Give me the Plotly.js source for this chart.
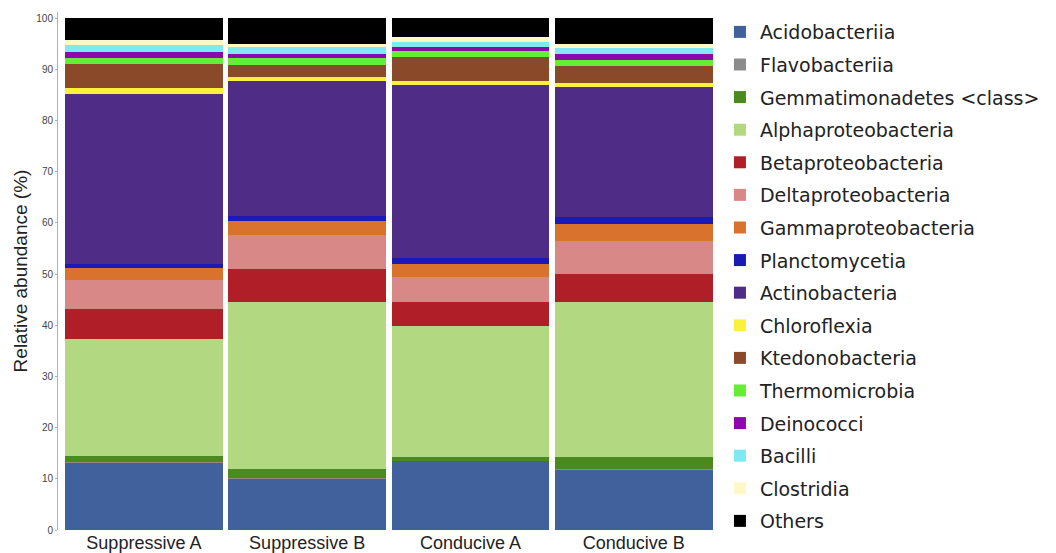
<!DOCTYPE html>
<html>
<head>
<meta charset="utf-8">
<script src="https://cdn.plot.ly/plotly-3.0.1.min.js"></script>
<style>
  html, body { margin: 0; padding: 0; background: #ffffff; }
  #chart { width: 1056px; height: 553px; }
</style>
</head>
<body>
<div id="chart"></div>
<script>
// Soil samples shown as stacked columns
const samples = ['Suppressive A', 'Suppressive B', 'Conducive A', 'Conducive B'];

// Bacterial classes, bottom of the stack first
const classes = [
  'Acidobacteriia', 'Flavobacteriia', 'Gemmatimonadetes <class>', 'Alphaproteobacteria',
  'Betaproteobacteria', 'Deltaproteobacteria', 'Gammaproteobacteria', 'Planctomycetia',
  'Actinobacteria', 'Chloroflexia', 'Ktedonobacteria', 'Thermomicrobia',
  'Deinococci', 'Bacilli', 'Clostridia', 'Others'
];

// Relative abundance (%) per class, one value per sample
const acidobacteriia      = [13.1, 10.0, 13.4, 11.8];
const flavobacteriia      = [0.1, 0.1, 0.1, 0.1];
const gemmatimonadetes    = [1.2, 1.8, 0.8, 2.4];
const alphaproteobacteria = [23.0, 32.6, 25.5, 30.2];
const betaproteobacteria  = [5.7, 6.4, 4.7, 5.5];
const deltaproteobacteria = [5.7, 6.7, 4.9, 6.5];
const gammaproteobacteria = [2.4, 2.7, 2.5, 3.2];
const planctomycetia      = [0.8, 1.0, 1.2, 1.4];
const actinobacteria      = [33.1, 26.4, 33.8, 25.4];
const chloroflexia        = [1.3, 0.8, 0.8, 0.8];
const ktedonobacteria     = [4.6, 2.4, 4.7, 3.4];
const thermomicrobia      = [1.2, 1.3, 1.2, 1.2];
const deinococci          = [1.2, 0.8, 0.8, 1.0];
const bacilli             = [1.4, 1.3, 1.0, 1.2];
const clostridia          = [1.0, 0.7, 0.9, 0.8];
const others              = [4.2, 5.0, 3.7, 5.1];

const abundance = [
  acidobacteriia, flavobacteriia, gemmatimonadetes, alphaproteobacteria,
  betaproteobacteria, deltaproteobacteria, gammaproteobacteria, planctomycetia,
  actinobacteria, chloroflexia, ktedonobacteria, thermomicrobia,
  deinococci, bacilli, clostridia, others
];

// Fill colour for each class
const palette = [
  '#40619c', '#8c8c8c', '#4a8a1e', '#b2d981',
  '#b01f27', '#d98888', '#d9722c', '#1a1ab4',
  '#4f2c85', '#fbf03c', '#8a4a2a', '#66ee36',
  '#8d08a8', '#7de9f2', '#fdf8c6', '#000000'
];

const traces = classes.map((name, i) => ({
  type: 'bar',
  name: name,
  x: samples,
  y: abundance[i],
  legendgroup: 'g' + i,
  marker: { color: palette[i], line: { width: 0 } },
  hovertemplate: '%{x}<br>' + name.replace(/</g, '&lt;').replace(/>/g, '&gt;') + ': %{y}%<extra></extra>'
}));

const layout = {
  width: 1056,
  height: 553,
  margin: { l: 58, r: 340, t: 12, b: 23 },
  paper_bgcolor: '#ffffff',
  plot_bgcolor: '#ffffff',
  barmode: 'stack',
  bargap: 0.034,
  showlegend: true,
  legend: {
    x: 1.006,
    xanchor: 'left',
    y: 0.998,
    yanchor: 'top',
    traceorder: 'grouped',
    tracegroupgap: 4.9,
    font: { family: 'DejaVu Sans', size: 19, color: '#222222' },
    bgcolor: 'rgba(0,0,0,0)',
    borderwidth: 0
  },
  xaxis: {
    type: 'category',
    range: [-0.526, 3.498],
    showline: false,
    showgrid: false,
    zeroline: false,
    ticks: '',
    tickfont: { family: 'Liberation Sans', size: 18, color: '#222222' },
    fixedrange: true
  },
  yaxis: {
    range: [0, 101.2],
    dtick: 10,
    tick0: 0,
    showline: true,
    linecolor: '#b0b0b0',
    linewidth: 1,
    ticks: 'outside',
    ticklen: 2,
    tickcolor: '#b0b0b0',
    showgrid: false,
    zeroline: false,
    tickfont: { family: 'Liberation Sans', size: 10, color: '#444444' },
    title: {
      text: 'Relative abundance (%)',
      font: { family: 'Liberation Sans', size: 19, color: '#222222' },
      standoff: 3
    },
    fixedrange: true
  }
};

Plotly.newPlot('chart', traces, layout, { displayModeBar: false, staticPlot: true });
</script>
</body>
</html>
